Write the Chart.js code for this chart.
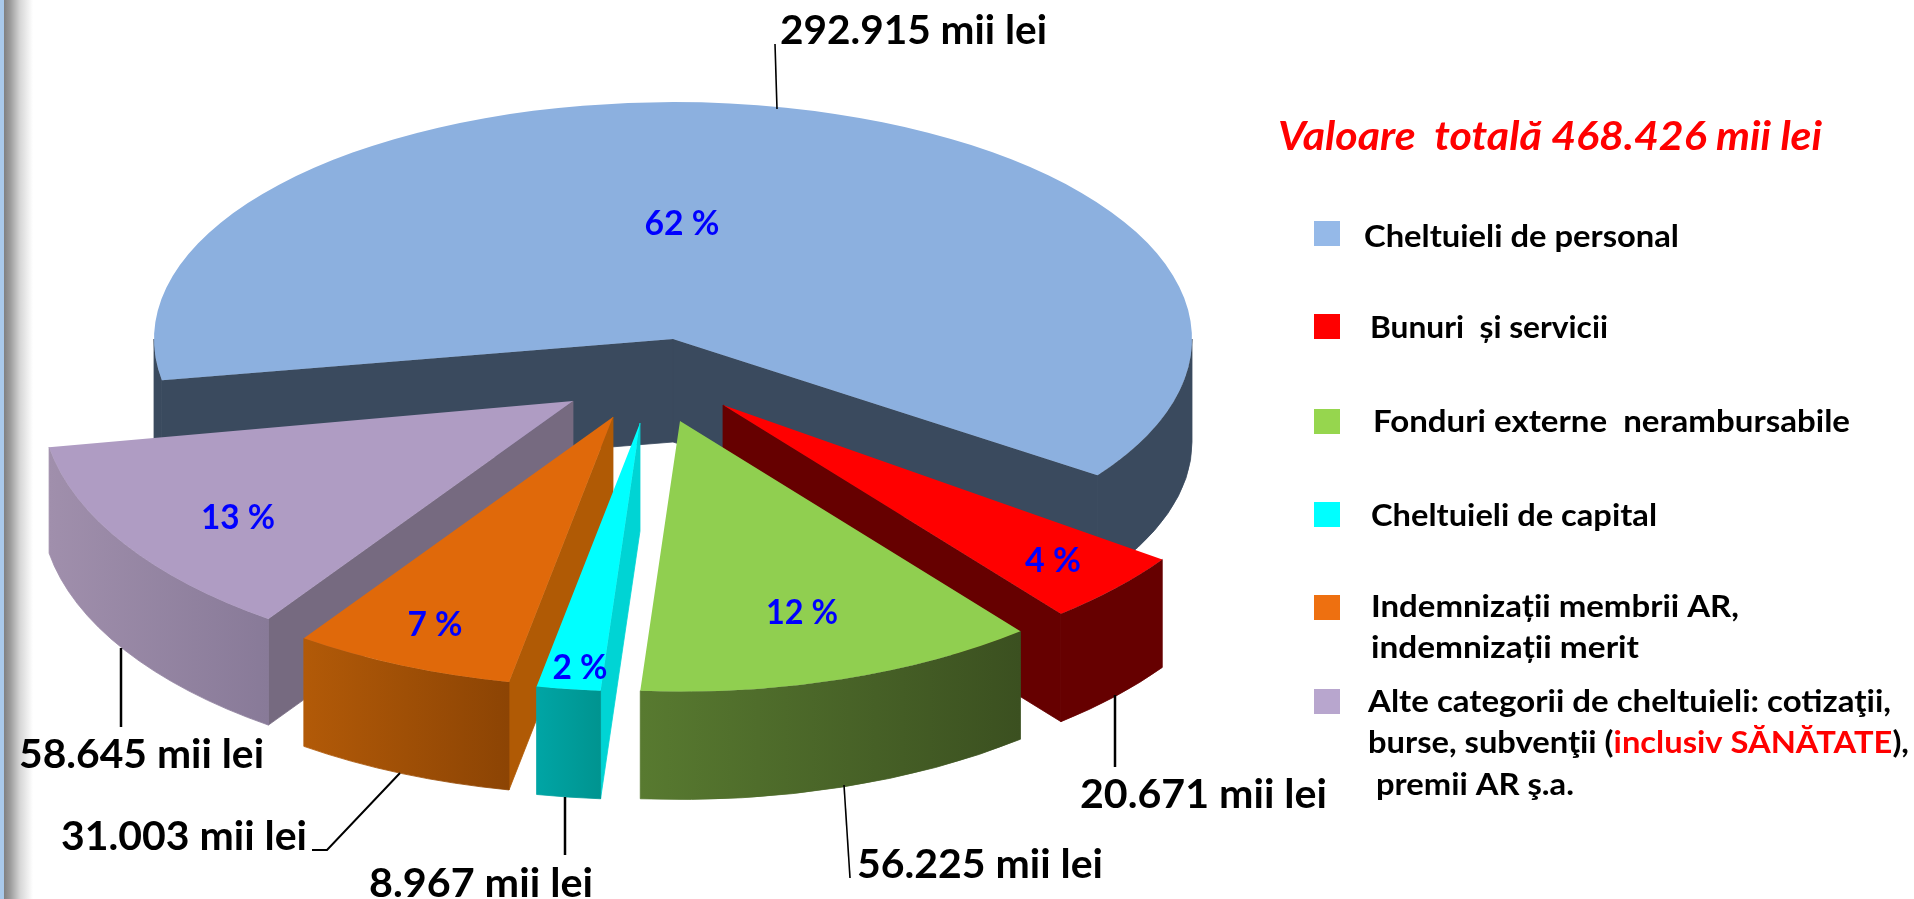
<!DOCTYPE html>
<html lang="ro">
<head>
<meta charset="utf-8">
<title>Valoare totală 468.426 mii lei</title>
<script src="https://cdn.jsdelivr.net/npm/chart.js@4/dist/chart.umd.min.js"></script>
<style>
html,body{margin:0;padding:0;width:1914px;height:899px;overflow:hidden;
background:linear-gradient(90deg,#a9c9ea 0,#a9c9ea 4px,#808080 4px,#9a9a9a 10px,#d6d6d6 20px,#ffffff 33px,#ffffff 100%);}
#wrap{position:absolute;left:0;top:0;width:1914px;height:899px;}
</style>
</head>
<body>
<div id="wrap"><canvas id="c" width="1914" height="899"></canvas></div>
<script>
// ---- data ----
const categories = ["Cheltuieli de personal","Bunuri și servicii","Fonduri externe nerambursabile","Cheltuieli de capital","Indemnizații membrii AR, indemnizații merit","Alte categorii de cheltuieli: cotizaţii, burse, subvenţii (inclusiv SĂNĂTATE), premii AR ş.a."];
const values = [292915, 20671, 56225, 8967, 31003, 58645];
const percentLabels = ["62 %","4 %","12 %","2 %","7 %","13 %"];
const valueLabels = ["292.915 mii lei","20.671 mii lei","56.225 mii lei","8.967 mii lei","31.003 mii lei","58.645 mii lei"];
const totalLabel = "Valoare  totală 468.426 mii lei";

// ---- styling ----
const topColors  = ["#8CB0DF","#FF0000","#90CF50","#00FFFF","#E0690A","#AF9CC3"];
const swatches   = ["#95B9E8","#FF0000","#96D64E","#00FFFF","#EE7010","#B8A6CE"];
const faceColors = ["#3A4A5E","#660000","#3F5420","#00D4D4","#B05A05","#766A80"];
const wallFrom   = ["#3A4A5E","#660000","#587A30","#00A5A5","#B25A08","#A08FAC"];
const wallTo     = ["#3A4A5E","#660000","#3B5020","#009490","#8C4404","#887A98"];
const shift      = [[20,-33],[70,33],[27,49],[-13,51],[-40,45],[-80,29]];
const flatten    = [0.4565,0.5,0.5,0.5,0.5,0.5];
const radiusOf   = [519,537,541,537,540,532];
const depthOf    = [103,108,108,108,108,106];
const paintOrder = [0,1,5,2,4,3];
const baseRadius = 537;

const pctPos  = [[682,223,75],[1053,560,56],[802,612,72],[580,667,55],[435,624,55],[238,517,74]];
const valueText = [[780,44,267],[1080,808,247],[857,878,246],[369,897,224],[61,850,246],[19,768,245]];
const leaders = [
  [[777,109],[775,44]],
  [[1115,695],[1115,767]],
  [[844,785],[850,878]],
  [[565,797],[565,855]],
  [[400,773],[327,850],[312,850]],
  [[121,648],[121,727]]
];
const leaderWidth = [1.6,2.5,1.6,2.5,2,2.5];
const legendSwatchY = [221,314,409,502,595,689];
const legendLines = [
  [[["Cheltuieli de personal","#000"]],1364,247,315],
  [[["Bunuri  și servicii","#000"]],1370,338,238],
  [[["Fonduri externe  nerambursabile","#000"]],1373,432,477],
  [[["Cheltuieli de capital","#000"]],1371,526,286],
  [[["Indemnizații membrii AR,","#000"]],1371,617,368],
  [[["indemnizații merit","#000"]],1371,658,268],
  [[["Alte categorii de cheltuieli: cotizaţii,","#000"]],1368,712,523],
  [[["burse, subvenţii (","#000"],["inclusiv SĂNĂTATE","#FF0000"],["),","#000"]],1368,753,541],
  [[["premii AR ş.a.","#000"]],1376,795,198]
];

const FONT = "Lato, Carlito, 'Open Sans', sans-serif";

function fitText(ctx, text, x, y, width, font, color){
  ctx.save();
  ctx.font = font; ctx.textBaseline = "alphabetic"; ctx.textAlign = "left"; ctx.fillStyle = color;
  const w = ctx.measureText(text).width;
  ctx.translate(x,y); ctx.scale(width/w,1);
  ctx.fillText(text,0,0);
  ctx.restore();
}

const pie3d = {
  id:"pie3d",
  beforeDatasetDraw(chart,args){
    const ctx = chart.ctx, arcs = args.meta.data;
    paintOrder.forEach(i=>{
      const arc = arcs[i];
      const a0 = arc.startAngle, a1 = arc.endAngle;
      const ax = arc.x+shift[i][0], ay = arc.y+shift[i][1];
      const r = radiusOf[i], k = flatten[i], d = depthOf[i];
      const edge = a => [ax+Math.cos(a)*r, ay+Math.sin(a)*r*k];
      const face = (a)=>{
        const e = edge(a);
        ctx.beginPath();
        ctx.moveTo(ax,ay); ctx.lineTo(e[0],e[1]); ctx.lineTo(e[0],e[1]+d); ctx.lineTo(ax,ay+d); ctx.closePath();
        ctx.fillStyle = faceColors[i]; ctx.strokeStyle = faceColors[i]; ctx.lineWidth = 0.8;
        ctx.fill(); ctx.stroke();
      };
      if(Math.cos(a0)<0) face(a0);
      if(Math.cos(a1)>0) face(a1);
      const wall = (from,to)=>{
        if(to<=from) return;
        const left = ax+Math.cos(from)*r, right = ax+Math.cos(to)*r;
        const grad = ctx.createLinearGradient(Math.min(left,right),0,Math.max(left,right),0);
        grad.addColorStop(0,wallFrom[i]); grad.addColorStop(1,wallTo[i]);
        ctx.save();
        ctx.beginPath();
        ctx.translate(ax,ay); ctx.scale(1,k);
        ctx.arc(0,0,r,from,to,false);
        ctx.arc(0,d/k,r,to,from,true);
        ctx.closePath();
        ctx.restore();
        ctx.fillStyle = grad; ctx.strokeStyle = grad; ctx.lineWidth = 0.8;
        ctx.fill(); ctx.stroke();
      };
      const TAU = Math.PI*2;
      [[0,Math.PI],[TAU,TAU+Math.PI],[-TAU,-Math.PI]].forEach(([lo,hi])=>{
        wall(Math.max(a0,lo),Math.min(a1,hi));
      });
      ctx.save();
      ctx.translate(ax,ay);
      ctx.scale(r/baseRadius,(r/baseRadius)*k);
      ctx.translate(-arc.x,-arc.y);
      arc.draw(ctx);
      ctx.restore();
    });
    return false;
  },
  afterDraw(chart){
    const ctx = chart.ctx;
    ctx.save();
    ctx.strokeStyle="#000"; ctx.lineCap="butt";
    leaders.forEach((pts,i)=>{
      ctx.lineWidth = leaderWidth[i];
      ctx.beginPath();
      pts.forEach((p,j)=> j?ctx.lineTo(p[0],p[1]):ctx.moveTo(p[0],p[1]));
      ctx.stroke();
    });
    ctx.restore();
    valueLabels.forEach((t,i)=>{
      const v = valueText[i];
      fitText(ctx,t,v[0],v[1],v[2],"bold 40px "+FONT,"#000");
    });
    percentLabels.forEach((t,i)=>{
      const p = pctPos[i];
      fitText(ctx,t,p[0]-p[2]/2,p[1]+12,p[2],"bold 34px "+FONT,"#0000FF");
    });
    fitText(ctx,totalLabel,1278,150,544,"italic bold 40px "+FONT,"#FF0000");
    swatches.forEach((c,i)=>{ ctx.fillStyle=c; ctx.fillRect(1314,legendSwatchY[i],26,25); });
    legendLines.forEach(([runs,x,y,width])=>{
      ctx.save();
      ctx.font="bold 31px "+FONT; ctx.textBaseline="alphabetic"; ctx.textAlign="left";
      const total = runs.reduce((s,r)=>s+ctx.measureText(r[0]).width,0);
      ctx.translate(x,y); ctx.scale(width/total,1);
      let cx=0;
      runs.forEach(r=>{ ctx.fillStyle=r[1]; ctx.fillText(r[0],cx,0); cx+=ctx.measureText(r[0]).width; });
      ctx.restore();
    });
  }
};

new Chart(document.getElementById("c"),{
  type:"pie",
  data:{labels:categories,datasets:[{data:values,backgroundColor:topColors,borderWidth:0,radius:baseRadius}]},
  options:{
    responsive:false,animation:false,events:[],rotation:260,
    layout:{padding:{right:608,bottom:155}},
    plugins:{legend:{display:false},tooltip:{enabled:false},title:{display:false}}
  },
  plugins:[pie3d]
});
</script>
</body>
</html>
